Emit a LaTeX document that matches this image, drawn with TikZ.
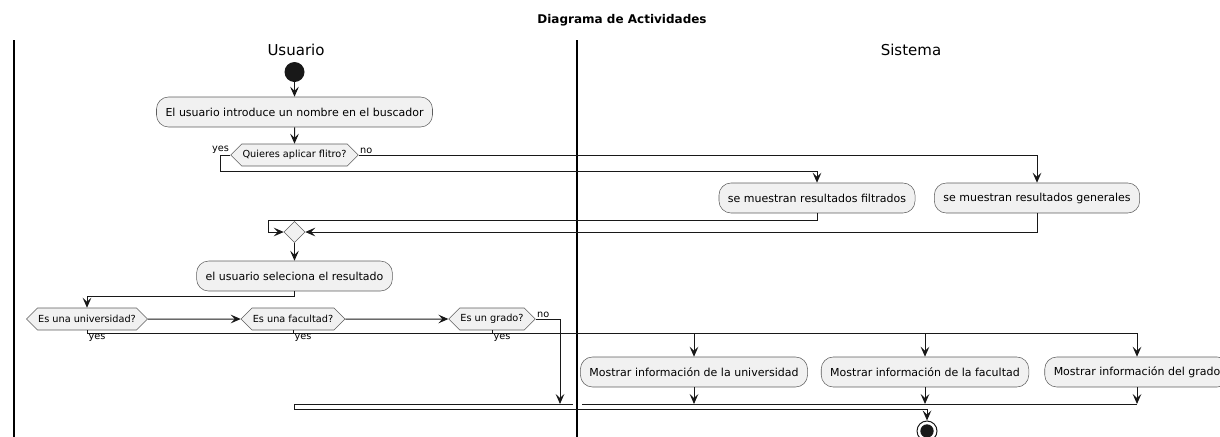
\documentclass[tikz,border=0pt]{standalone}
\usepackage{fontspec}
\setmainfont{DejaVu Sans}
\usetikzlibrary{arrows.meta,shapes.geometric,shapes.symbols}
\definecolor{boxfill}{HTML}{F1F1F1}
\definecolor{linecol}{HTML}{181818}
\tikzset{
  act/.style={rectangle,rounded corners=9pt,draw=linecol!70,fill=boxfill,line width=0.4pt,
    minimum height=22.5pt,inner xsep=6.75pt,inner ysep=0pt,font=\fontsize{8.25}{10}\selectfont},
  choice/.style={signal,signal to=east and west,signal pointer angle=90,draw=linecol!70,fill=boxfill,
    line width=0.4pt,minimum height=16.5pt,inner xsep=0.5pt,inner ysep=0pt,font=\fontsize{7.3}{9}\selectfont},
  merger/.style={diamond,draw=linecol!70,fill=boxfill,line width=0.4pt,minimum size=15.75pt,inner sep=0pt},
  flow/.style={draw=linecol,line width=0.75pt,-{Stealth[length=7.5pt,width=6.5pt,inset=3pt]}},
  wire/.style={draw=linecol,line width=0.75pt},
  lbl/.style={font=\fontsize{7.3}{9}\selectfont,inner sep=1pt},
  lane/.style={font=\fontsize{11.25}{13}\selectfont},
}
\begin{document}
\begin{tikzpicture}[x=0.75pt,y=-0.75pt]
  \clip (0,0) rectangle (1220,436);
  % carriles
  \node (titulo) at (622,20) [font=\fontsize{9}{11}\selectfont\bfseries] {Diagrama de Actividades};
  \node (usuario) at (296,50) [lane] {Usuario};
  \node (sistema) at (911,50) [lane] {Sistema};
  \draw[line width=1pt] (14,40) -- (14,440);
  \draw[line width=1pt] (577,40) -- (577,440);

  % actividades
  \node (start) at (294.5,72) [circle,fill=linecol,inner sep=0pt,minimum size=15pt] {};
  \node (intro) at (294.5,112) [act] {El usuario introduce un nombre en el buscador};
  \node (filtro) at (294.5,155) [choice] {Quieres aplicar flitro?};
  \node (filtrados) at (817,198) [act] {se muestran resultados filtrados};
  \node (generales) at (1037,198) [act] {se muestran resultados generales};
  \node (merge) at (294.5,232) [merger] {};
  \node (selec) at (294.5,276) [act] {el usuario seleciona el resultado};
  \node (univ) at (87,319) [choice] {Es una universidad?};
  \node (facu) at (293,319) [choice] {Es una facultad?};
  \node (grado) at (492,319) [choice] {Es un grado?};
  \node (muniv) at (694,372) [act] {Mostrar información de la universidad};
  \node (mfacu) at (925,372) [act] {Mostrar información de la facultad};
  \node (mgrado) at (1137,372) [act] {Mostrar información del grado};
  \node (stop) at (927,431) [circle,draw=linecol,line width=0.75pt,fill=white,inner sep=0pt,minimum size=15pt] {};
  \node (stopdot) at (stop) [circle,fill=linecol,inner sep=0pt,minimum size=10pt] {};

  % etiquetas
  \node (yes0) at (filtro.west) [lbl,anchor=south east] {yes};
  \node (no0) at (filtro.east) [lbl,anchor=south west] {no};
  \node (yes1) at (univ.south) [lbl,anchor=north west,yshift=-1.5pt] {yes};
  \node (yes2) at (facu.south) [lbl,anchor=north west,yshift=-1.5pt] {yes};
  \node (yes3) at (grado.south) [lbl,anchor=north west,yshift=-1.5pt] {yes};
  \node (no1) at (grado.east) [lbl,anchor=south west] {no};

  % flujo
  \coordinate (ybend) at (220,171);
  \coordinate (fbend) at (268,220);
  \coordinate (sbend) at (87,296);
  \coordinate (yline) at (1137,333);
  \coordinate (nobar) at (560,404);
  \coordinate (barL) at (294.5,404);
  \coordinate (barM) at (573,404);
  \coordinate (barN) at (582,404);
  \coordinate (barR) at (1137,404);
  \draw[flow] (start) -- (intro);
  \draw[flow] (intro) -- (filtro);
  \draw[flow] (filtro.west) -| (ybend) -| (filtrados.north);
  \draw[flow] (filtro.east) -| (generales.north);
  \draw[flow] (filtrados.south) |- (fbend) |- (merge.west);
  \draw[flow] (generales.south) |- (merge.east);
  \draw[flow] (merge) -- (selec);
  \draw[flow] (selec.south) |- (sbend) -- (univ.north);
  \draw[flow] (univ) -- (facu);
  \draw[flow] (facu) -- (grado);
  \draw[flow] (grado.east) -| (nobar);
  \draw[wire] (univ.south) |- (yline);
  \draw[wire] (facu.south) -- (facu.south |- yline);
  \draw[wire] (grado.south) -- (grado.south |- yline);
  \draw[flow] (muniv.north |- yline) -- (muniv.north);
  \draw[flow] (mfacu.north |- yline) -- (mfacu.north);
  \draw[flow] (yline) -- (mgrado.north);
  \draw[flow] (muniv.south) -- (muniv.south |- barR);
  \draw[flow] (mfacu.south) -- (mfacu.south |- barR);
  \draw[flow] (mgrado.south) -- (barR);
  \draw[wire] (barL) -- (barM) (barN) -- (barR);
  \draw[flow] (barL) -- ++(0,5) -| (stop.north);
\end{tikzpicture}
\end{document}
